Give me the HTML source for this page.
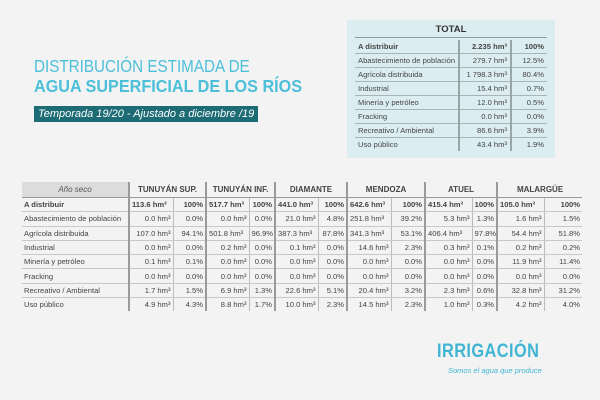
<!DOCTYPE html>
<html><head><meta charset="utf-8"><style>
body{margin:0;width:600px;height:400px;background:#f3f3f3;font-family:"Liberation Sans",sans-serif;color:#444;position:relative;overflow:hidden}
.t1{position:absolute;left:34px;top:56px;font-size:17.5px;color:#4cbfd9;white-space:nowrap;transform:scaleX(0.87);transform-origin:0 0}
.t2{position:absolute;left:34px;top:76px;font-size:17.5px;font-weight:bold;color:#4cbfd9;white-space:nowrap;transform:scaleX(0.925);transform-origin:0 0}
.ban{position:absolute;left:34px;top:106px;width:224px;height:16px;background:#1d6b74;color:#fff;font-style:italic;font-size:11px;line-height:16px;padding-left:4px;box-sizing:border-box;white-space:nowrap}
.tot{position:absolute;left:347px;top:20px;width:208px;height:138px;background:#dcedf2}
.tot table,.mt{border-collapse:collapse;font-size:7.6px;table-layout:fixed}
.tot table{position:absolute;left:8px;top:20px;width:192px}
.tot td{height:13px;padding:0 3px;border-bottom:1px solid #a9b4b7;white-space:nowrap}
.r{text-align:right}
.tot td.c2{border-left:2px solid #9aa5a8;border-right:2px solid #9aa5a8}
.mt{position:absolute;left:22px;top:182px;width:560px}
.mt td{height:13.3px;padding:0 2px;border-bottom:1px solid #c8c8c8;white-space:nowrap;overflow:hidden}
.mt td.g{border-left:2px solid #9a9a9a}
.mt td.i{border-left:1px solid #bbb}
.mt tr.h td{height:15px;font-weight:bold;text-align:center;font-size:8px;border-bottom:1px solid #999}
.mt tr.h td.l{background:#dcdcdc;font-weight:normal;font-style:italic;color:#555}
b{font-weight:bold}
.logo{position:absolute;left:437px;top:341px;font-size:19px;font-weight:bold;color:#3fb5d3;letter-spacing:0.5px;transform:scaleX(0.86);transform-origin:0 0;white-space:nowrap}
.slog{position:absolute;left:448px;top:366px;font-size:7.5px;font-style:italic;color:#3fb5d3}
</style></head><body>
<div class="t1">DISTRIBUCIÓN ESTIMADA DE</div>
<div class="t2">AGUA SUPERFICIAL DE LOS RÍOS</div>
<div class="ban">Temporada 19/20 - Ajustado a diciembre /19</div>
<div class="tot">
<div style="position:absolute;left:0;width:208px;top:4px;text-align:center;font-weight:bold;font-size:9.5px;color:#333">TOTAL</div>
<div style="position:absolute;left:8px;top:17px;width:192px;border-top:1px solid #999"></div>
<table>
<colgroup><col style="width:104px"><col style="width:52px"><col style="width:36px"></colgroup>
<tr><td><b>A distribuir</b></td><td class="c2 r"><b>2.235 hm³</b></td><td class="r"><b>100%</b></td></tr>
<tr><td>Abastecimiento de población</td><td class="c2 r">279.7 hm³</td><td class="r">12.5%</td></tr>
<tr><td>Agrícola distribuida</td><td class="c2 r">1 798.3 hm³</td><td class="r">80.4%</td></tr>
<tr><td>Industrial</td><td class="c2 r">15.4 hm³</td><td class="r">0.7%</td></tr>
<tr><td>Minería y petróleo</td><td class="c2 r">12.0 hm³</td><td class="r">0.5%</td></tr>
<tr><td>Fracking</td><td class="c2 r">0.0 hm³</td><td class="r">0.0%</td></tr>
<tr><td>Recreativo / Ambiental</td><td class="c2 r">86.6 hm³</td><td class="r">3.9%</td></tr>
<tr><td style="border:0">Uso público</td><td class="c2 r" style="border-bottom:0">43.4 hm³</td><td class="r" style="border:0">1.9%</td></tr>
</table></div>
<table class="mt">
<colgroup><col style="width:107px"><col style="width:44px"><col style="width:33px"><col style="width:43px"><col style="width:26px"><col style="width:43px"><col style="width:29px"><col style="width:44px"><col style="width:34px"><col style="width:47px"><col style="width:25px"><col style="width:47px"><col style="width:38px"></colgroup>
<tr class="h"><td class="l">Año seco</td><td class="g" colspan="2">TUNUYÁN SUP.</td><td class="g" colspan="2">TUNUYÁN INF.</td><td class="g" colspan="2">DIAMANTE</td><td class="g" colspan="2">MENDOZA</td><td class="g" colspan="2">ATUEL</td><td class="g" colspan="2">MALARGÜE</td></tr>
<tr><td><b>A distribuir</b></td><td class="g"><b>113.6 hm³</b></td><td class="i r"><b>100%</b></td><td class="g"><b>517.7 hm³</b></td><td class="i r"><b>100%</b></td><td class="g"><b>441.0 hm³</b></td><td class="i r"><b>100%</b></td><td class="g"><b>642.6 hm³</b></td><td class="i r"><b>100%</b></td><td class="g"><b>415.4 hm³</b></td><td class="i r"><b>100%</b></td><td class="g"><b>105.0 hm³</b></td><td class="i r"><b>100%</b></td></tr>
<tr><td>Abastecimiento de población</td><td class="g r">0.0 hm³</td><td class="i r">0.0%</td><td class="g r">0.0 hm³</td><td class="i r">0.0%</td><td class="g r">21.0 hm³</td><td class="i r">4.8%</td><td class="g">251.8 hm³</td><td class="i r">39.2%</td><td class="g r">5.3 hm³</td><td class="i r">1.3%</td><td class="g r">1.6 hm³</td><td class="i r">1.5%</td></tr>
<tr><td>Agrícola distribuida</td><td class="g r">107.0 hm³</td><td class="i r">94.1%</td><td class="g">501.8 hm³</td><td class="i r">96.9%</td><td class="g">387.3 hm³</td><td class="i r">87.8%</td><td class="g">341.3 hm³</td><td class="i r">53.1%</td><td class="g">406.4 hm³</td><td class="i r">97.8%</td><td class="g r">54.4 hm³</td><td class="i r">51.8%</td></tr>
<tr><td>Industrial</td><td class="g r">0.0 hm³</td><td class="i r">0.0%</td><td class="g r">0.2 hm³</td><td class="i r">0.0%</td><td class="g r">0.1 hm³</td><td class="i r">0.0%</td><td class="g r">14.6 hm³</td><td class="i r">2.3%</td><td class="g r">0.3 hm³</td><td class="i r">0.1%</td><td class="g r">0.2 hm³</td><td class="i r">0.2%</td></tr>
<tr><td>Minería y petróleo</td><td class="g r">0.1 hm³</td><td class="i r">0.1%</td><td class="g r">0.0 hm³</td><td class="i r">0.0%</td><td class="g r">0.0 hm³</td><td class="i r">0.0%</td><td class="g r">0.0 hm³</td><td class="i r">0.0%</td><td class="g r">0.0 hm³</td><td class="i r">0.0%</td><td class="g r">11.9 hm³</td><td class="i r">11.4%</td></tr>
<tr><td>Fracking</td><td class="g r">0.0 hm³</td><td class="i r">0.0%</td><td class="g r">0.0 hm³</td><td class="i r">0.0%</td><td class="g r">0.0 hm³</td><td class="i r">0.0%</td><td class="g r">0.0 hm³</td><td class="i r">0.0%</td><td class="g r">0.0 hm³</td><td class="i r">0.0%</td><td class="g r">0.0 hm³</td><td class="i r">0.0%</td></tr>
<tr><td>Recreativo / Ambiental</td><td class="g r">1.7 hm³</td><td class="i r">1.5%</td><td class="g r">6.9 hm³</td><td class="i r">1.3%</td><td class="g r">22.6 hm³</td><td class="i r">5.1%</td><td class="g r">20.4 hm³</td><td class="i r">3.2%</td><td class="g r">2.3 hm³</td><td class="i r">0.6%</td><td class="g r">32.8 hm³</td><td class="i r">31.2%</td></tr>
<tr><td style="border:0">Uso público</td><td class="g r" style="border-bottom:0">4.9 hm³</td><td class="i r" style="border-bottom:0">4.3%</td><td class="g r" style="border-bottom:0">8.8 hm³</td><td class="i r" style="border-bottom:0">1.7%</td><td class="g r" style="border-bottom:0">10.0 hm³</td><td class="i r" style="border-bottom:0">2.3%</td><td class="g r" style="border-bottom:0">14.5 hm³</td><td class="i r" style="border-bottom:0">2.3%</td><td class="g r" style="border-bottom:0">1.0 hm³</td><td class="i r" style="border-bottom:0">0.3%</td><td class="g r" style="border-bottom:0">4.2 hm³</td><td class="i r" style="border-bottom:0">4.0%</td></tr>
</table>
<div class="logo">IRRIGACIÓN</div>
<div class="slog">Somos el agua que produce</div>
</body></html>
